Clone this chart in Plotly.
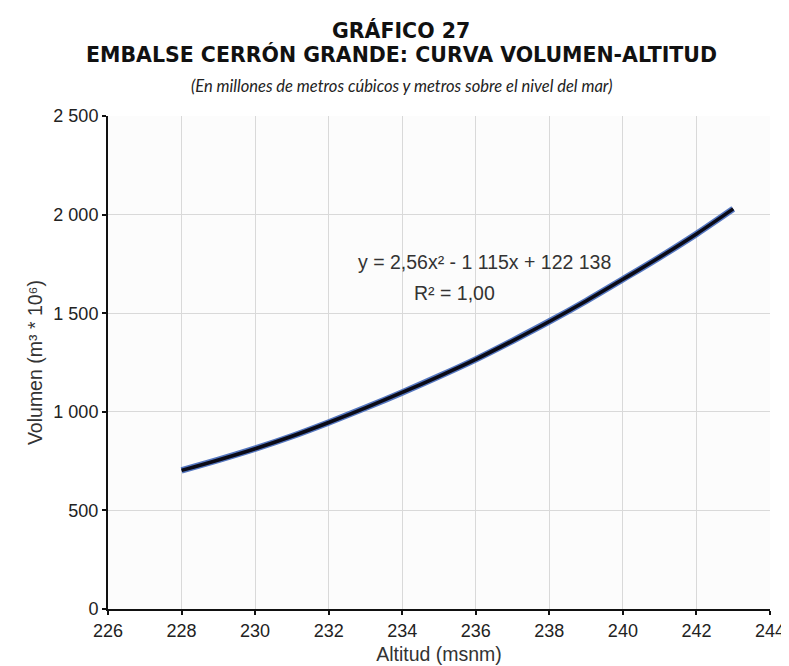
import plotly.graph_objects as go

# Data
altitud = [228, 229, 230, 231, 232, 233, 234, 235, 236, 237, 238, 239, 240, 241, 242, 243]
volumen = [703, 756, 813, 876, 946, 1020, 1098, 1180, 1266, 1360, 1458, 1562, 1672, 1784, 1902, 2029]

x_ticks = [226, 228, 230, 232, 234, 236, 238, 240, 242, 244]
y_ticks = [0, 500, 1000, 1500, 2000, 2500]

title_l1 = "GRÁFICO 27"
title_l2 = "EMBALSE CERRÓN GRANDE: CURVA VOLUMEN-ALTITUD"
subtitle = "(En millones de metros cúbicos y metros sobre el nivel del mar)"
equation = "y = 2,56x² - 1 115x + 122 138"
r_squared = "R² = 1,00"
x_title = "Altitud (msnm)"
y_title = "Volumen (m³ * 10⁶)"

SANS = "Liberation Sans, Arial, sans-serif"

fig = go.Figure()
# blue halo
fig.add_trace(go.Scatter(x=altitud, y=volumen, mode="lines",
                         line=dict(color="#5577c0", width=6.5, shape="spline"),
                         hoverinfo="skip", showlegend=False))
# black core
fig.add_trace(go.Scatter(x=altitud, y=volumen, mode="lines",
                         line=dict(color="#0a0a16", width=3.6, shape="spline"),
                         showlegend=False))

tick_font = dict(family=SANS, size=18, color="#222")
axis_title_font = dict(family=SANS, size=19.5, color="#333")

fig.update_layout(
    width=789, height=666,
    margin=dict(l=100, r=24, t=108, b=64),
    paper_bgcolor="white",
    plot_bgcolor="#fcfcfc",
    separators=", ",
    font=dict(family=SANS, color="#222"),
    xaxis=dict(range=[226, 244], tickvals=x_ticks, showgrid=True,
               gridcolor="#d9d9d9", gridwidth=1, zeroline=False,
               showline=True, linecolor="#111", linewidth=2,
               ticks="outside", ticklen=4, tickcolor="#111", tickwidth=1.5,
               tickfont=tick_font,
               title=dict(text=x_title, font=axis_title_font, standoff=8)),
    yaxis=dict(range=[0, 2500], tickvals=y_ticks, tickformat=",d", showgrid=True,
               gridcolor="#d9d9d9", gridwidth=1, zeroline=False,
               showline=True, linecolor="#111", linewidth=2,
               ticks="outside", ticklen=4, tickcolor="#111", tickwidth=1.5,
               tickfont=tick_font,
               title=dict(text=y_title, font=axis_title_font, standoff=6)),
)

# Equation and R² labels
fig.add_annotation(text=equation, xref="x", yref="y", x=236.23, y=1761,
                   xanchor="center", yanchor="middle", showarrow=False,
                   font=dict(family=SANS, size=19.5, color="#333"))
fig.add_annotation(text=r_squared, xref="x", yref="y", x=235.42, y=1604,
                   xanchor="center", yanchor="middle", showarrow=False,
                   font=dict(family=SANS, size=19.5, color="#333"))

# Titles
cx = (394.5 - 100) / 665
fig.add_annotation(text="<b>" + title_l1 + "</b>", xref="paper", yref="paper",
                   x=cx, y=1 + (108 - 22) / 494, xanchor="center", yanchor="middle",
                   showarrow=False, font=dict(family="DejaVu Sans, sans-serif", size=20.5, color="#111"))
fig.add_annotation(text="<b>" + title_l2 + "</b>", xref="paper", yref="paper",
                   x=cx, y=1 + (108 - 46) / 494, xanchor="center", yanchor="middle",
                   showarrow=False, font=dict(family="DejaVu Sans, sans-serif", size=20.5, color="#111"))
fig.add_annotation(text="<i>" + subtitle + "</i>", xref="paper", yref="paper",
                   x=cx, y=1 + (108 - 78) / 494, xanchor="center", yanchor="middle",
                   showarrow=False, font=dict(family="Lato, sans-serif", size=16.5, color="#222"))

fig.write_html("out.html")
